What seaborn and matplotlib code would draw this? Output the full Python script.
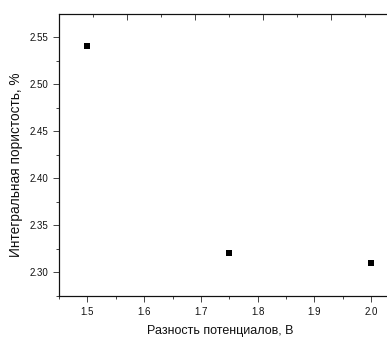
import matplotlib
matplotlib.use("Agg")
import matplotlib.pyplot as plt
from matplotlib.ticker import MultipleLocator
import seaborn as sns
import pandas as pd

voltage = [1.5, 1.75, 2.0]
porosity = [2.54, 2.32, 2.31]
x_label = "Разность потенциалов, В"
y_label = "Интегральная пористость, %"

sns.set_theme(style="ticks")
plt.rcParams['font.family'] = ['Liberation Sans', 'DejaVu Sans']

df = pd.DataFrame({"x": voltage, "y": porosity})

fig = plt.figure(figsize=(3.87, 3.38), dpi=100)
ax = fig.add_axes([59/387, 1-296/338, 340.5/387, 282/338])
sns.scatterplot(data=df, x="x", y="y", marker="s", s=24, color="black",
                edgecolor="black", linewidth=0, ax=ax)

ax.set_xlim(1.45, 2.0 + 28.5/570)
ax.set_ylim(2.2745, 2.5745)
ax.xaxis.set_major_locator(MultipleLocator(0.1))
ax.xaxis.set_minor_locator(MultipleLocator(0.05))
ax.yaxis.set_major_locator(MultipleLocator(0.05))
ax.yaxis.set_minor_locator(MultipleLocator(0.025))
ax.xaxis.set_major_formatter(matplotlib.ticker.FormatStrFormatter('%.1f'))
ax.yaxis.set_major_formatter(matplotlib.ticker.FormatStrFormatter('%.2f'))

ax.set_xlabel(x_label, fontsize=9, color="#111111", va="center", ha="center")
ax.set_ylabel(y_label, fontsize=9.8, color="#111111", va="center", ha="center")
ax.xaxis.set_label_coords(0.473, -0.125)
ax.yaxis.set_label_coords(-0.125, 0.466)
ax.tick_params(axis='both', which='major', labelsize=7, length=4, width=0.7,
               direction='out', colors="#444444", labelcolor="#111111", pad=4)
ax.tick_params(axis='both', which='minor', length=2, width=0.7, direction='out', colors="#444444")

for s in ax.spines.values():
    s.set_linewidth(0.8)
    s.set_color("#111111")
    s.set_visible(True)

top = ax.twiny()
top.set_xlim(0, 340.5/68)
top.xaxis.set_major_locator(MultipleLocator(1))
top.xaxis.set_minor_locator(MultipleLocator(0.5))
top.tick_params(axis='x', which='major', direction='in', length=4, width=0.7,
                labeltop=False, colors="#444444")
top.tick_params(axis='x', which='minor', direction='in', length=2, width=0.7, colors="#444444")
for s in top.spines.values():
    s.set_linewidth(0.8)
    s.set_color("#111111")
top.set_position(ax.get_position())

fig.savefig("out.png", dpi=100)
